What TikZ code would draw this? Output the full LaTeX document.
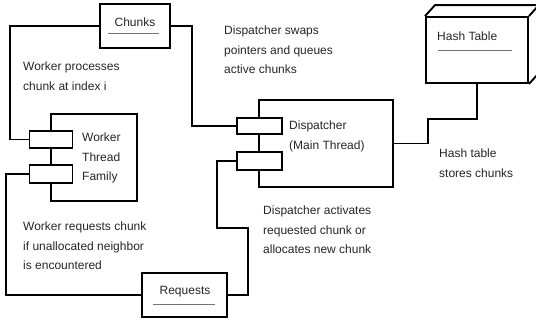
\documentclass[tikz,border=0pt]{standalone}
\usepackage{fontspec}
\setmainfont{Liberation Sans}
\usetikzlibrary{calc}

\begin{document}
\begin{tikzpicture}[x=1pt,y=-1pt,
  box/.style={shape=rectangle,draw=black,line width=1.9pt,fill=white,inner sep=0pt},
  port/.style={shape=rectangle,draw=black,line width=1.9pt,fill=white,inner sep=0pt,minimum width=43,minimum height=17},
  wire/.style={-,draw=black,line width=1.9pt},
  note/.style={anchor=north west,align=left,inner sep=0pt,text=black!85,font=\fontsize{12}{19.8}\selectfont},
  title/.style={inner sep=0pt,text=black!85,font=\fontsize{12}{14}\selectfont},
  rule/.style={draw=black!55,line width=0.8pt}]
\useasboundingbox (0,0) rectangle (536,324);

% boxes
\node[box,minimum width=70,minimum height=44] (chunks) at (135,26) {};
\node[box,minimum width=86,minimum height=87] (worker) at (94,157.5) {};
\node[box,minimum width=134,minimum height=87] (disp) at (326,143.5) {};
\node[box,minimum width=85,minimum height=44] (requests) at (184.5,295) {};
\node[box,minimum width=102,minimum height=66] (hash) at (477,50) {};

% ports
\node[port] (wport1) at (51,139.5) {};
\node[port,minimum height=18] (wport2) at (51,174) {};
\node[port,minimum width=45,minimum height=16] (dport1) at (259.5,126) {};
\node[port,minimum width=45,minimum height=18] (dport2) at (259.5,161) {};

% hash table depth
\draw[wire,line join=miter] (hash.north west) -- ++(10,-11) -- ($(hash.north east)+(10,-11)$)
  -- ($(hash.south east)+(10,-11)$) -- (hash.south east);
\draw[wire] (hash.north east) -- ++(10,-11);

% box titles
\node[title] (chunkstxt) at (135,22) {Chunks};
\draw[rule] (108,33) -- (159,33);
\node[title] (requeststxt) at (185,292) {Requests};
\draw[rule] (153,304) -- (215,304);
\node[title,anchor=west] (hashtxt) at (437,36.5) {Hash Table};
\draw[rule] (438,50) -- (512,50);
\node[note] (workertxt) at (82,132.5) {Worker\\Thread\\Family};
\node[note] (disptxt) at (289,120.5) {Dispatcher\\(Main Thread)};

% connectors
\coordinate (jog) at (217,228);
\coordinate (hjog) at (428,119);
\path[wire] (chunks.west) -| ([xshift=-19]wport1.west) -- (wport1.west);
\path[wire] (chunks.east) -| ([xshift=-44]dport1.west) -- (dport1.west);
\path[wire] (wport2.west) -- ++(-23,0) |- (requests.west);
\path[wire] (requests.east) -- ++(20,0) |- (jog) |- (dport2.west);
\path[wire] (hash.south) |- (hjog) |- (disp.east);

% notes
\node[note] (n1) at (23,61.5) {Worker processes\\chunk at index i};
\node[note] (n2) at (224,25.5) {Dispatcher swaps\\pointers and queues\\active chunks};
\node[note] (n3) at (439,148.5) {Hash table\\stores chunks};
\node[note] (n4) at (263,205.5) {Dispatcher activates\\requested chunk or\\allocates new chunk};
\node[note] (n5) at (23,221.5) {Worker requests chunk\\if unallocated neighbor\\is encountered};
\end{tikzpicture}
\end{document}
